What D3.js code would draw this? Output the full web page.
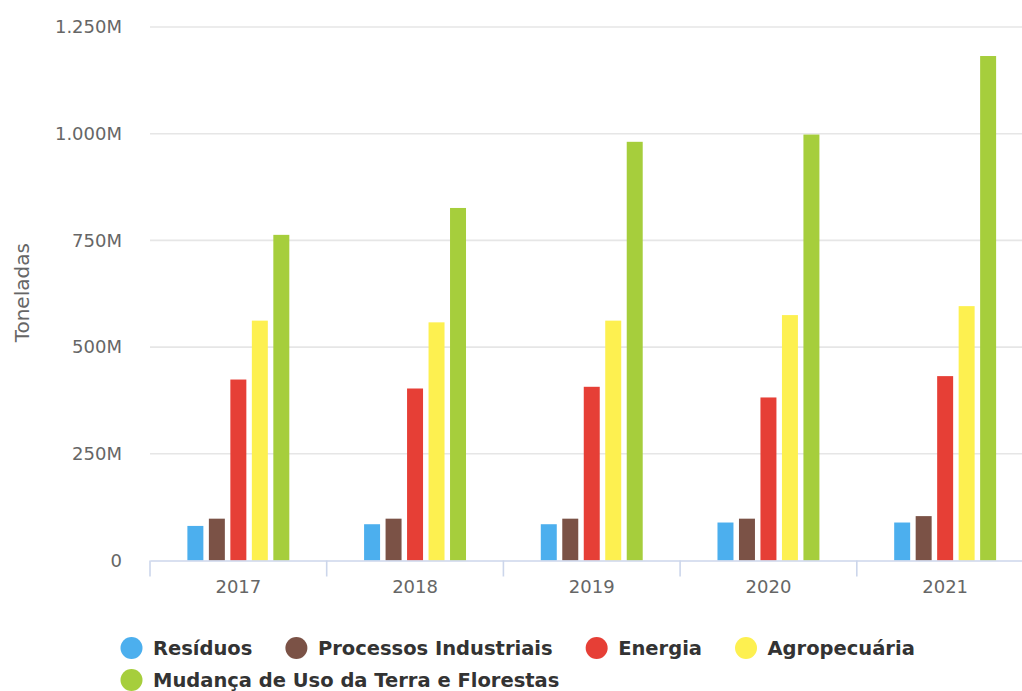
<!DOCTYPE html>
<html>
<head>
<meta charset="utf-8">
<script src="https://cdn.jsdelivr.net/npm/d3@7/dist/d3.min.js"></script>
<style>
  html, body { margin: 0; padding: 0; background: #ffffff; overflow: hidden; }
  svg { display: block; font-family: "DejaVu Sans", sans-serif; }
</style>
</head>
<body>
<svg id="chart" width="1022" height="691"></svg>
<script>
// Emissões por setor (milhões de toneladas)
const years = ["2017", "2018", "2019", "2020", "2021"];
const seriesNames = ["Resíduos", "Processos Industriais", "Energia", "Agropecuária", "Mudança de Uso da Terra e Florestas"];
const seriesColors = ["#4cafee", "#7b5246", "#e63f36", "#fdf050", "#a6ce3c"];
const residuos = [81, 85, 85, 89, 89];
const processosIndustriais = [98, 98, 98, 98, 104];
const energia = [424, 403, 407, 382, 432];
const agropecuaria = [562, 558, 562, 575, 596];
const mudancaUsoTerra = [763, 826, 981, 998, 1182];
const yTicks = [0, 250, 500, 750, 1000, 1250];
const yTitle = "Toneladas";

const seriesValues = [residuos, processosIndustriais, energia, agropecuaria, mudancaUsoTerra];

const svg = d3.select("#chart");
const plot = { left: 150, right: 1033.5, top: 27, bottom: 560.5 };

const x0 = d3.scaleBand().domain(years).range([plot.left, plot.right]).paddingInner(0).paddingOuter(0);
const x1 = d3.scaleBand().domain(seriesNames).range([0, x0.bandwidth()]).paddingInner(0.256).paddingOuter(1.74);
const y = d3.scaleLinear().domain([0, 1250]).range([plot.bottom, plot.top]);

const ptBR = d3.formatLocale({ decimal: ",", thousands: ".", grouping: [3], currency: ["R$", ""] });
const fmt = v => v === 0 ? "0" : ptBR.format(",")(v) + "M";

// grid lines
svg.append("g")
  .selectAll("line")
  .data(yTicks.filter(t => t !== 0))
  .join("line")
  .attr("x1", plot.left).attr("x2", plot.right)
  .attr("y1", d => y(d)).attr("y2", d => y(d))
  .attr("stroke", "#e6e6e6").attr("stroke-width", 1.6);

// y axis labels
const yAxis = d3.axisLeft(y).tickValues(yTicks).tickFormat(fmt).tickSize(0).tickPadding(28);
const gy = svg.append("g").attr("transform", `translate(${plot.left},0)`).call(yAxis);
gy.select(".domain").remove();
gy.selectAll("text").attr("fill", "#666666").style("font-size", "18px").style("font-family", "DejaVu Sans, sans-serif");

// y axis title
svg.append("text")
  .attr("transform", `translate(28.5,${(plot.top + plot.bottom) / 2 - 1}) rotate(-90)`)
  .attr("text-anchor", "middle")
  .attr("fill", "#666666")
  .style("font-size", "20px")
  .text(yTitle);

// bars
const groups = svg.append("g")
  .selectAll("g")
  .data(years)
  .join("g")
  .attr("transform", d => `translate(${x0(d)},0)`);

groups.selectAll("rect")
  .data((yr, i) => seriesNames.map((s, k) => ({ s, k, v: seriesValues[k][i] })))
  .join("rect")
  .attr("x", d => x1(d.s))
  .attr("width", x1.bandwidth())
  .attr("y", d => y(d.v))
  .attr("height", d => y(0) - y(d.v))
  .attr("fill", d => seriesColors[d.k]);

// x axis
const xAxis = d3.axisBottom(x0).tickSize(0).tickPadding(20);
const gx = svg.append("g").attr("transform", `translate(0,${plot.bottom})`).call(xAxis);
gx.select(".domain").attr("stroke", "#ccd6eb").attr("stroke-width", 1.6);
gx.selectAll("text").attr("fill", "#666666").style("font-size", "18px").style("font-family", "DejaVu Sans, sans-serif");

// category boundary ticks
svg.append("g")
  .selectAll("line")
  .data(years)
  .join("line")
  .attr("x1", d => x0(d)).attr("x2", d => x0(d))
  .attr("y1", plot.bottom).attr("y2", plot.bottom + 16)
  .attr("stroke", "#ccd6eb").attr("stroke-width", 1.6);

// legend
const legend = svg.append("g").style("font-size", "19.5px").style("font-weight", "bold");
const rowY = [648, 680];
const legendLeft = 120.5;
const legendMaxRight = 960;
let lx = legendLeft, row = 0;
seriesNames.forEach((name, k) => {
  const item = legend.append("g");
  item.append("circle").attr("r", 11).attr("fill", seriesColors[k]);
  const t = item.append("text").attr("x", 21.5).attr("dy", "0.36em").attr("fill", "#333333").text(name);
  const w = 32.5 + t.node().getComputedTextLength();
  if (lx + w > legendMaxRight) { row += 1; lx = legendLeft; }
  item.attr("transform", `translate(${lx + 11},${rowY[row]})`);
  lx += w + 33;
});
</script>
</body>
</html>
